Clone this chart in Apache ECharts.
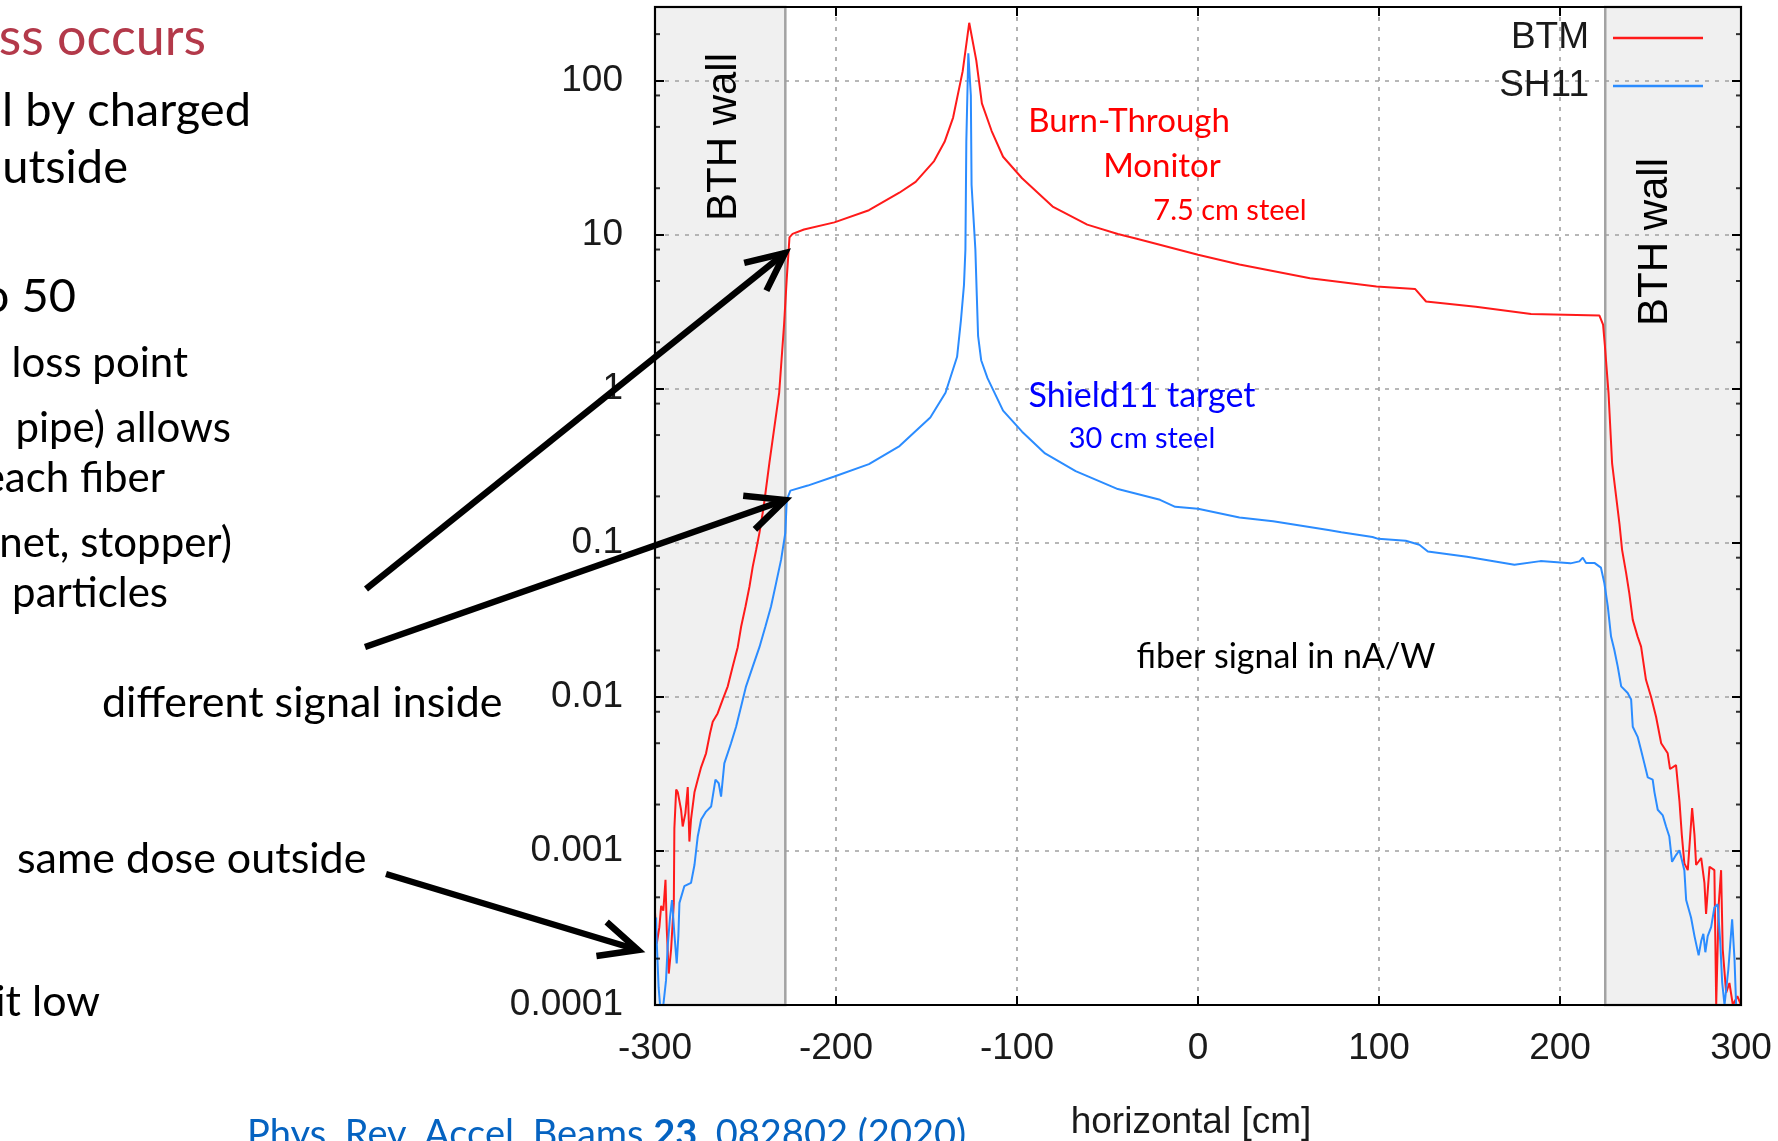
<!DOCTYPE html>
<html><head><meta charset="utf-8">
<script src="https://cdn.jsdelivr.net/npm/echarts@6/dist/echarts.min.js"></script>
<style>html,body{margin:0;padding:0;background:#fff;overflow:hidden}#c{width:1778px;height:1141px}</style>
</head><body><div id="c"></div>
<script>
// ---- data ----
const xTickLabels = ['-300', '-200', '-100', '0', '100', '200', '300'];
const yTickLabels = ['0.0001', '0.001', '0.01', '0.1', '1', '10', '100'];
const minorTickValues = [2e-4, 5e-4, 8e-4, 2e-3, 5e-3, 8e-3, 0.02, 0.05, 0.08, 0.2, 0.5, 0.8, 2, 5, 8, 20, 50, 80, 200];
const wallStart = [-300, 225];
const wallEnd = [-228, 300];
const seriesNames = ['BTM', 'SH11'];

const btmPosition = [-300, -299, -297.6, -296.6, -295.4, -294.2, -293.5, -292.4, -291.1, -289.6, -289.3, -288.3, -287.4, -285.6, -284.7, -283.2, -281.9, -281, -280.1, -278.2, -276.4, -274.5, -271.8, -269.6, -268.1, -265.4, -262.6, -259.8, -257.1, -254.3, -252.4, -250, -247.8, -246, -244.1, -242.3, -240, -236.8, -231.4, -228.7, -227.2, -225.7, -224, -217.7, -200.9, -181.8, -165, -156, -145.8, -140, -135.3, -130, -126.4, -122.5, -119.4, -114, -107.7, -97.2, -80.3, -61.2, -44.3, -33.8, 0, 22.9, 61.9, 98.6, 119.9, 126, 153.5, 184, 221.8, 223.8, 224.8, 226.8, 228.8, 232.9, 234.3, 236.5, 238.3, 240.2, 242.9, 244.8, 247.5, 250.3, 253.1, 255.9, 259.5, 260.8, 264.1, 266, 267.3, 268.7, 270.6, 273, 274.3, 275.2, 278, 279.8, 280.7, 282.6, 285.3, 286.3, 287.7, 289, 289.9, 291.8, 293.6, 295.5, 298, 300];
const btmSignal = [0.0004, 0.00025, 0.00032, 0.00044, 0.00041, 0.00065, 0.00031, 0.00016, 0.00023, 0.00046, 0.0014, 0.0025, 0.0024, 0.00185, 0.00144, 0.00176, 0.0026, 0.00115, 0.0016, 0.0024, 0.0029, 0.0035, 0.0043, 0.0058, 0.0069, 0.0078, 0.0096, 0.0117, 0.0157, 0.021, 0.0286, 0.0386, 0.052, 0.07, 0.09, 0.116, 0.17, 0.33, 0.94, 2.6, 5.2, 9.6, 10.1, 10.8, 12, 14.4, 18.7, 22, 30, 40, 57.5, 115, 237, 135, 71, 47, 32, 23.2, 15.2, 11.6, 10.1, 9.4, 7.4, 6.4, 5.2, 4.6, 4.44, 3.68, 3.4, 3.05, 2.98, 2.6, 1.9, 0.94, 0.326, 0.131, 0.09, 0.064, 0.047, 0.0316, 0.0246, 0.0212, 0.0129, 0.01, 0.0074, 0.005, 0.0043, 0.0034, 0.0036, 0.0021, 0.00127, 0.00083, 0.00075, 0.0019, 0.00127, 0.00081, 0.0009, 0.00062, 0.00039, 0.00079, 0.00075, 0.0001, 0.00045, 0.00075, 0.00023, 0.00012, 0.000139, 0.0001, 0.000114, 0.0001];

const sh11Position = [-299.4, -299, -298, -297.2, -295.4, -293.9, -293, -291.7, -290.6, -289.3, -288, -287.1, -286.5, -283.8, -280.1, -278.2, -276.4, -274.5, -271.8, -269, -266.6, -264.8, -263.5, -261.7, -258, -255.2, -252.4, -249.7, -246, -242.3, -239, -235.9, -233.1, -230.3, -228, -227.2, -225.2, -215.6, -200.9, -181.8, -164.9, -147.9, -139.5, -133.1, -131, -129.3, -128.5, -128, -126.9, -125.5, -125.1, -123, -122.2, -121.5, -119.8, -116.3, -107.7, -97.2, -84.5, -67.6, -44.3, -21, -12.6, 0, 22.9, 41.5, 72, 79.2, 96.4, 99.6, 114.8, 122.3, 127, 148.6, 174.8, 189.2, 205.8, 210.7, 212.6, 214.4, 219, 222.6, 224.5, 226.4, 228.2, 230, 231.9, 233.8, 237.4, 239.3, 240.2, 242.9, 244.8, 246.6, 248.5, 251.2, 252.2, 254, 256.8, 258.6, 260.4, 261.9, 264.1, 266, 268.7, 269.7, 272.4, 274.3, 276.6, 278, 279.2, 280.3, 281.6, 283.5, 285.3, 287.1, 288.5, 289.6, 290.9, 293, 295.1, 296.4, 297.3];
const sh11Signal = [0.00037, 0.00025, 0.00013, 0.0001, 0.0001, 0.000145, 0.00024, 0.00037, 0.00048, 0.00029, 0.000186, 0.00028, 0.00046, 0.00059, 0.00062, 0.00081, 0.00124, 0.0016, 0.0018, 0.00194, 0.0029, 0.00275, 0.00225, 0.0037, 0.005, 0.0064, 0.0087, 0.0117, 0.0157, 0.021, 0.0286, 0.0386, 0.0547, 0.078, 0.116, 0.19, 0.218, 0.235, 0.269, 0.324, 0.424, 0.65, 0.94, 1.61, 2.76, 4.7, 8, 40, 150, 80, 21, 8, 4, 2.2, 1.53, 1.17, 0.72, 0.526, 0.38, 0.292, 0.223, 0.19, 0.171, 0.166, 0.146, 0.138, 0.121, 0.117, 0.109, 0.106, 0.103, 0.097, 0.0877, 0.081, 0.072, 0.076, 0.0735, 0.0757, 0.08, 0.074, 0.074, 0.069, 0.0547, 0.0386, 0.0246, 0.0202, 0.0157, 0.0117, 0.0106, 0.0096, 0.0064, 0.0055, 0.0045, 0.0037, 0.003, 0.0029, 0.0024, 0.00185, 0.0017, 0.00144, 0.00124, 0.00085, 0.00094, 0.00101, 0.00075, 0.00048, 0.00037, 0.00028, 0.00021, 0.00026, 0.00029, 0.00022, 0.00028, 0.00032, 0.00043, 0.00045, 0.00026, 0.00014, 0.0001, 0.00017, 0.00036, 0.0002, 0.0001];

// ---- styling ----
const NARROW = "'Liberation Sans Narrow', 'Liberation Sans', 'DejaVu Sans Condensed', sans-serif";
const SLIDE = "Lato, 'Open Sans', sans-serif";
const RED = '#ff1a1a', BLUE = '#2b8cff';
const CITE = '#0563c1';

const zip = (xs, ys) => xs.map((x, i) => [x, ys[i]]);

function txt(text, x, baseline, size, color, align, family, weight, rot) {
  return {
    type: 'text', x: x, y: rot ? baseline : baseline - 0.32 * size, rotation: rot || 0, z: 20,
    style: { text: text, x: 0, y: 0, font: (weight || 'normal') + ' ' + size + 'px ' + (family || SLIDE),
      fill: color, align: align, textAlign: align, verticalAlign: 'middle', textVerticalAlign: 'middle' }
  };
}
function arrow(x1, y1, x2, y2) {
  const a = Math.atan2(y1 - y2, x1 - x2), L = 42, h = 25 * Math.PI / 180;
  const p1 = [x2 + L * Math.cos(a + h), y2 + L * Math.sin(a + h)];
  const p2 = [x2 + L * Math.cos(a - h), y2 + L * Math.sin(a - h)];
  return [
    { type: 'polyline', z: 30, shape: { points: [[x1, y1], [x2, y2]] }, style: { stroke: '#000', lineWidth: 6.5, fill: null } },
    { type: 'polyline', z: 30, shape: { points: [p1, [x2, y2], p2] }, style: { stroke: '#000', lineWidth: 6.5, fill: null, lineJoin: 'miter' } }
  ];
}

const chart = echarts.init(document.getElementById('c'), null, { renderer: 'canvas' });

const yFmt = v => yTickLabels.find(t => Math.abs(Math.log10(+t) - Math.log10(v)) < 1e-6) || '';
const xFmt = v => xTickLabels.find(t => +t === v) || '';
const tickStyle = { show: true, inside: true, length: 9, lineStyle: { color: '#000', width: 2 } };
const splitStyle = { show: true, lineStyle: { color: '#a0a0a0', width: 1.6, type: [4, 6] } };
const noLine = { show: false, onZero: false };

const graphics = [
  txt('ss occurs', 206, 55, 52, '#b3394a', 'right'),
  txt('l by charged', 251, 126, 47, '#000', 'right'),
  txt('utside', 128, 183, 47, '#000', 'right'),
  txt('to 50', 76, 312, 47, '#000', 'right'),
  txt('loss point', 188, 377, 42, '#000', 'right'),
  txt('pipe) allows', 231, 442, 42, '#000', 'right'),
  txt('each fiber', 165, 492, 42, '#000', 'right'),
  txt('net, stopper)', 232, 557, 42, '#000', 'right'),
  txt('particles', 168, 607, 42, '#000', 'right'),
  txt('different signal inside', 102, 717, 43, '#000', 'left'),
  txt('same dose outside', 17, 873, 43, '#000', 'left'),
  txt('it low', 100, 1016, 43, '#000', 'right'),
  {
    type: 'text', x: 247, y: 1147 - 0.32 * 38, z: 20,
    style: { text: '{a|Phys. Rev. Accel. Beams }{b|23}{a|, 082802 (2020)}', x: 0, y: 0, fill: CITE,
      verticalAlign: 'middle', textVerticalAlign: 'middle', align: 'left', textAlign: 'left',
      rich: { a: { font: 'normal 38px Lato', fontFamily: 'Lato', fontSize: 38, fill: CITE, color: CITE },
              b: { font: 'bold 38px Lato', fontFamily: 'Lato', fontSize: 38, fontWeight: 'bold', fill: CITE, color: CITE } } }
  },
  txt('Burn-Through', 1129, 132, 33, '#ff0000', 'center'),
  txt('Monitor', 1162, 177, 33, '#ff0000', 'center'),
  txt('7.5 cm steel', 1230, 220, 29, '#ff0000', 'center'),
  txt('Shield11 target', 1142, 407, 34, '#0000ff', 'center'),
  txt('30 cm steel', 1142, 448, 29, '#0000ff', 'center'),
  txt('fiber signal in nA/W', 1286, 668, 34, '#000', 'center'),
  txt('BTH wall', 724, 137, 42, '#000', 'center', "'Liberation Sans', Arial, sans-serif", 'normal', Math.PI / 2),
  txt('BTH wall', 1655, 242, 42, '#000', 'center', "'Liberation Sans', Arial, sans-serif", 'normal', Math.PI / 2)
].concat(arrow(366, 589, 785, 253), arrow(365, 647, 785, 500), arrow(386, 874, 638, 950));

chart.setOption({
  animation: false,
  backgroundColor: '#fff',
  grid: { left: 655, right: 37, top: 7, bottom: 136, show: true, z: 10, borderColor: '#000', borderWidth: 2,
    backgroundColor: 'transparent', outerBoundsMode: 'none', containLabel: false },
  legend: {
    data: seriesNames, orient: 'vertical', right: 70, top: 13, align: 'right', icon: 'rect',
    itemWidth: 90, itemHeight: 2.5, itemGap: 8, padding: 5,
    textStyle: { fontFamily: NARROW, fontSize: 37, color: '#1a1a1a', lineHeight: 40, padding: [0, 19, 0, 0] }
  },
  xAxis: [
    { type: 'value', position: 'bottom', min: -300, max: 300, interval: 100, z: 3,
      axisLine: noLine, axisTick: tickStyle, splitLine: splitStyle,
      axisLabel: { formatter: xFmt, margin: 25, fontFamily: NARROW, fontSize: 37, color: '#1a1a1a' },
      name: 'horizontal [cm]', nameLocation: 'middle', nameGap: 99,
      nameTextStyle: { fontFamily: NARROW, fontSize: 37, color: '#1a1a1a', padding: [0, 14, 0, 0] } },
    { type: 'value', position: 'top', min: -300, max: 300, interval: 100, z: 3,
      axisLine: noLine, axisTick: tickStyle, splitLine: { show: false }, axisLabel: { show: false } }
  ],
  yAxis: [
    { type: 'log', logBase: 10, position: 'left', min: 0.0001, max: 300, z: 3,
      axisLine: noLine, axisTick: tickStyle, splitLine: splitStyle,
      axisLabel: { formatter: yFmt, margin: 32, fontFamily: NARROW, fontSize: 37, color: '#1a1a1a', showMaxLabel: false } },
    { type: 'log', logBase: 10, position: 'right', min: 0.0001, max: 300, z: 3,
      axisLine: noLine, axisTick: tickStyle, splitLine: { show: false }, axisLabel: { show: false } }
  ],
  series: [
    { type: 'line', name: 'walls', data: [], z: 1, silent: true,
      markArea: { silent: true, itemStyle: { color: '#f0f0f0', borderColor: '#a3a3a3', borderWidth: 2.5 },
        data: wallStart.map((s, i) => [{ xAxis: s }, { xAxis: wallEnd[i] }]) } },
    { type: 'line', name: seriesNames[0], data: zip(btmPosition, btmSignal), showSymbol: false, z: 5,
      color: RED, lineStyle: { color: RED, width: 2 } },
    { type: 'line', name: seriesNames[1], data: zip(sh11Position, sh11Signal), showSymbol: false, z: 5,
      color: BLUE, lineStyle: { color: BLUE, width: 2 } },
    { type: 'scatter', name: 'minorL', data: minorTickValues.map(v => [-300, v]), symbol: 'rect',
      symbolSize: [5, 2], symbolOffset: [2.5, 0], itemStyle: { color: '#000' }, silent: true, clip: false, z: 6 },
    { type: 'scatter', name: 'minorR', data: minorTickValues.map(v => [300, v]), symbol: 'rect',
      symbolSize: [5, 2], symbolOffset: [-2.5, 0], itemStyle: { color: '#000' }, silent: true, clip: false, z: 6 }
  ],
  graphic: graphics
});
</script>
</body></html>
